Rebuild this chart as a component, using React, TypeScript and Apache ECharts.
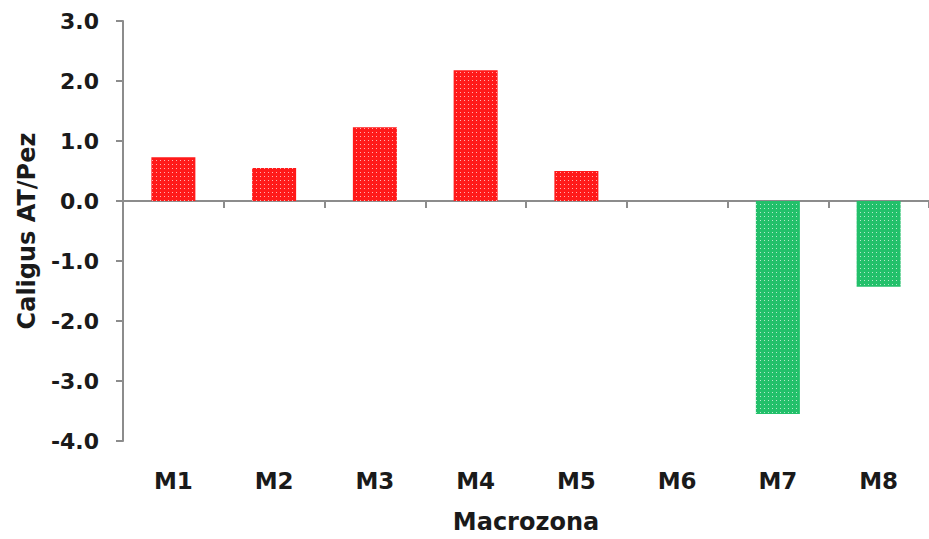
import React, { useEffect, useRef } from "react";
import * as echarts from "echarts";

const categories = ["M1", "M2", "M3", "M4", "M5", "M6", "M7", "M8"];
const values = [0.73, 0.55, 1.23, 2.18, 0.5, 0, -3.55, -1.43];
const yTicks = { min: -4, max: 3, interval: 1 };
const positiveColor = "#ff1a1a";
const negativeColor = "#22c06a";

export default function App() {
  const ref = useRef<HTMLDivElement>(null);
  useEffect(() => {
    if (!ref.current) return;
    const chart = echarts.init(ref.current, null, { renderer: "svg" });
    const font = "DejaVu Sans";
    const decal = {
      symbol: "rect",
      symbolSize: 1,
      color: "rgba(255,255,255,0.65)",
      dashArrayX: [1, 3],
      dashArrayY: [1, 3],
    };
    chart.setOption({
      animation: false,
      backgroundColor: "#ffffff",
      aria: { enabled: true, decal: { show: true } },
      grid: { left: 123, right: -10, top: 21, bottom: 98, containLabel: false },
      xAxis: [
        {
          type: "category",
          data: categories,
          axisLine: { onZero: true, lineStyle: { color: "#8c8c8c", width: 2 } },
          axisTick: { show: true, length: 7, lineStyle: { color: "#8c8c8c", width: 2 } },
          axisLabel: { show: false },
        },
        {
          type: "category",
          data: categories,
          position: "bottom",
          axisLine: { show: false, onZero: false },
          axisTick: { show: false },
          axisLabel: {
            show: true,
            margin: 28,
            fontFamily: font,
            fontWeight: "bold",
            fontSize: 23,
            color: "#1a1a1a",
          },
          name: "Macrozona",
          nameLocation: "middle",
          nameGap: 69,
          nameTextStyle: { fontFamily: font, fontWeight: "bold", fontSize: 24, color: "#1a1a1a" },
        },
      ],
      yAxis: {
        type: "value",
        min: yTicks.min,
        max: yTicks.max,
        interval: yTicks.interval,
        splitLine: { show: false },
        axisLine: { show: true, onZero: false, lineStyle: { color: "#8c8c8c", width: 2 } },
        axisTick: { show: true, length: 7, lineStyle: { color: "#8c8c8c", width: 2 } },
        axisLabel: {
          margin: 24,
          fontFamily: font,
          fontWeight: "bold",
          fontSize: 22,
          color: "#1a1a1a",
          formatter: (v: number) => v.toFixed(1),
        },
        name: "Caligus AT/Pez",
        nameLocation: "middle",
        nameGap: 84,
        nameTextStyle: { fontFamily: font, fontWeight: "bold", fontSize: 24, color: "#1a1a1a" },
      },
      series: [
        {
          type: "bar",
          xAxisIndex: 0,
          barWidth: 44,
          itemStyle: { decal },
          data: values.map((v) => ({
            value: v,
            itemStyle: { color: v >= 0 ? positiveColor : negativeColor, decal },
          })),
        },
      ],
    });
    return () => chart.dispose();
  }, []);
  return (
    <div
      ref={ref}
      style={{ position: "fixed", left: 0, top: 0, width: 929, height: 539, background: "#fff" }}
    />
  );
}
